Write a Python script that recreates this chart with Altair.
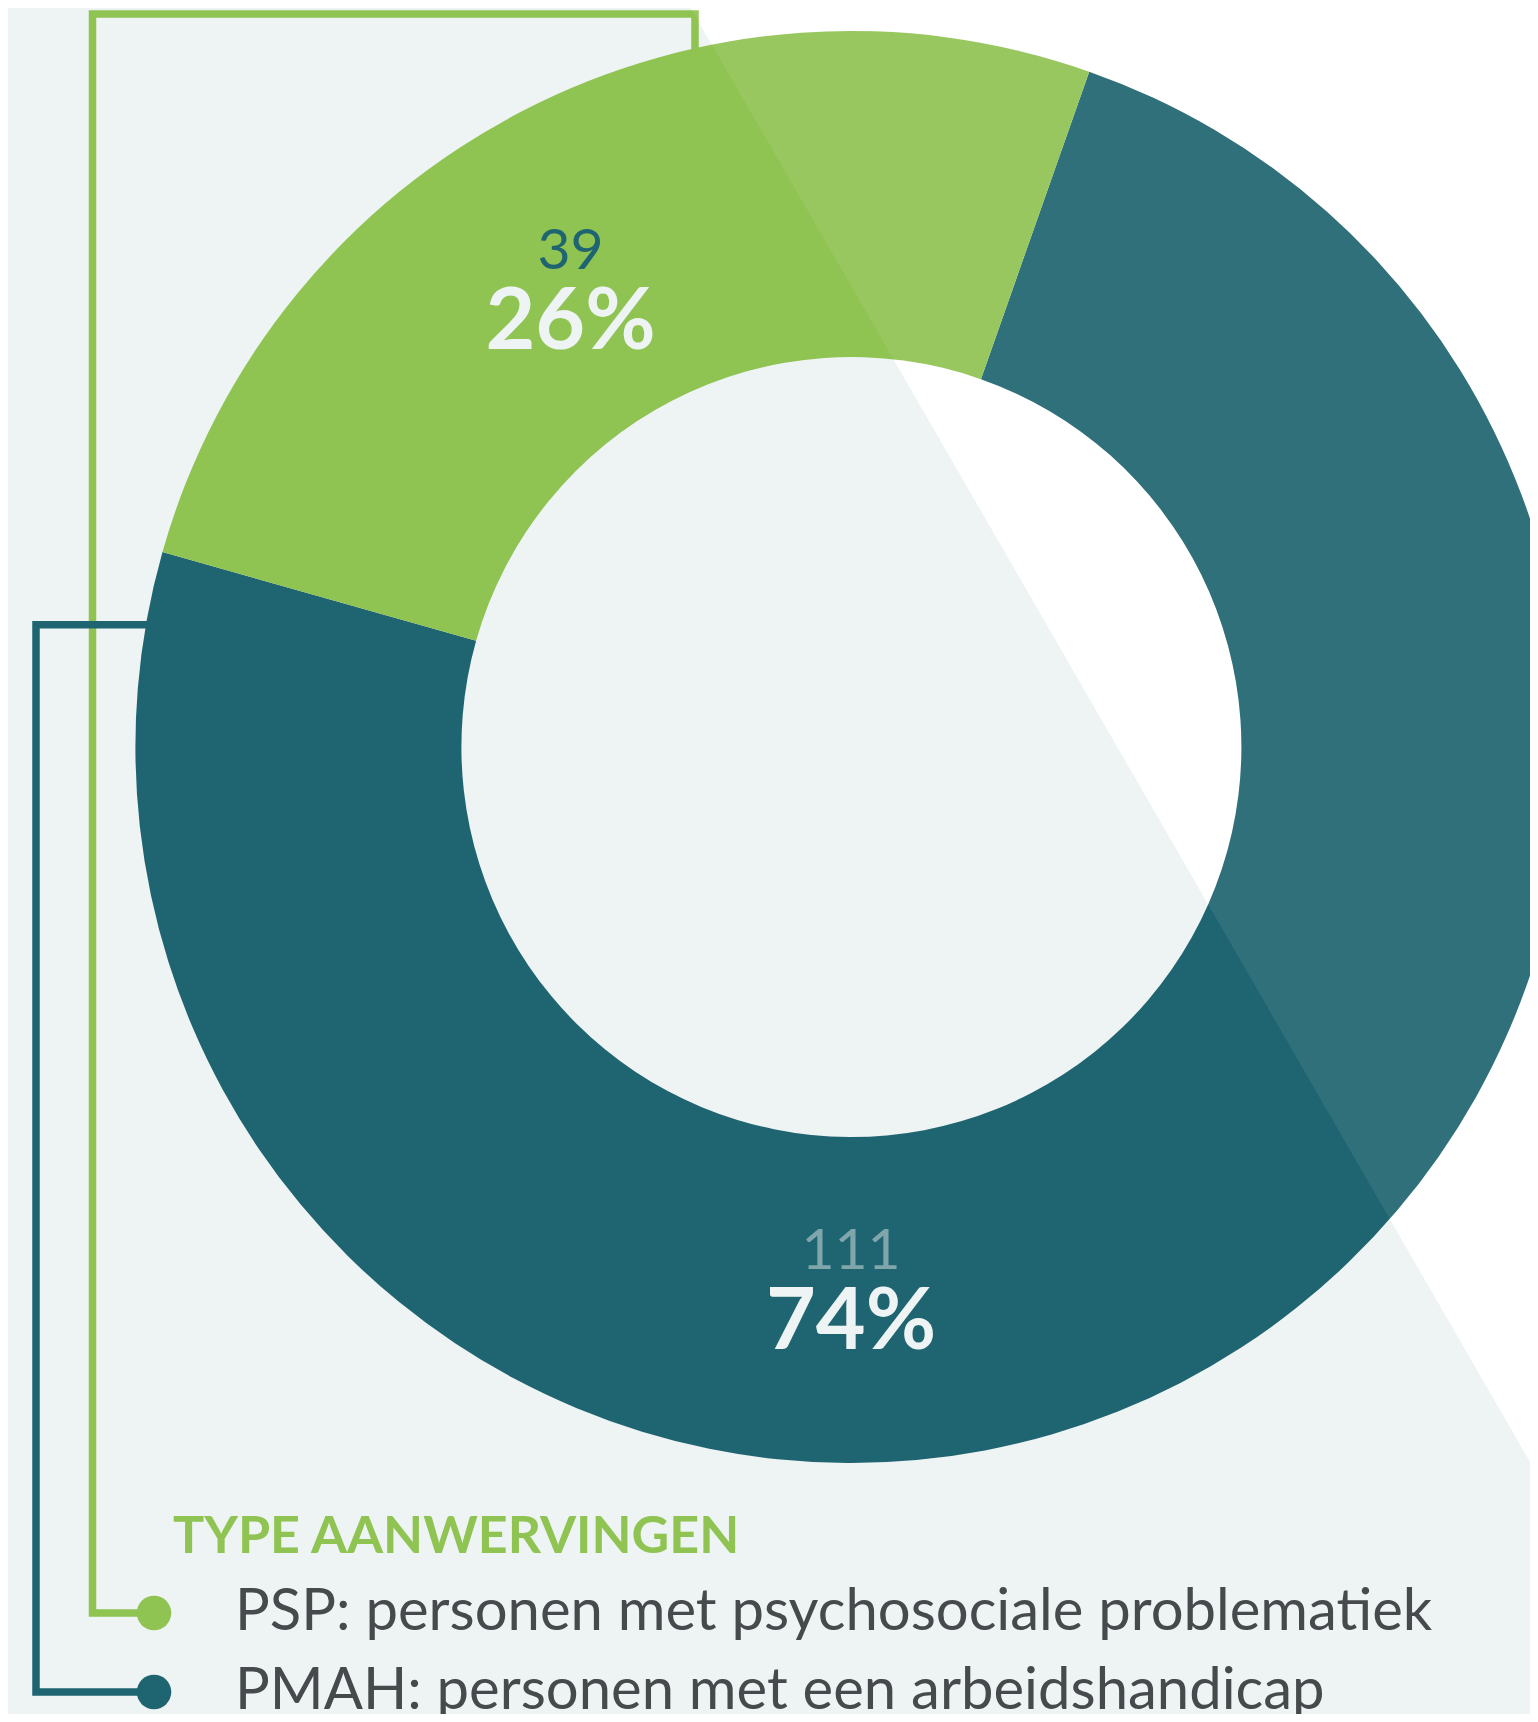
import math
import altair as alt
import pandas as pd

# ---------------- data ----------------
categories = ["PMAH", "PSP"]
counts = [111, 39]
percent_labels = ["74%", "26%"]
legend_title = "TYPE AANWERVINGEN"
legend_categories = ["PSP", "PMAH"]
legend_labels = [
    "PSP: personen met psychosociale problematiek",
    "PMAH: personen met een arbeidshandicap",
]

# ---------------- layout / style ----------------
W, H = 1522, 1706
CX, CY = 843.4, 739.0
R_OUT, R_IN = 716, 390
THETA0 = math.radians(19.4)
DIAG_TOP_X = 682.6
DIAG_SLOPE = math.tan(math.radians(60))

GREEN = "#8fc352"
TEAL = "#1f6571"
BG = "#eef3f4"
TEXT = "#464a4c"
NUM_LIGHT = "#80a6ac"
FONT = "Lato"

LABEL_POS = {"PMAH": (843.0, 1261.0, 1341.0), "PSP": (562.5, 261.0, 341.0)}
LEGEND_X_DOT, LEGEND_X_TEXT = 146.0, 227.0
LEGEND_Y = {"PSP": 1605.0, "PMAH": 1684.0}
TITLE_XY = (165.0, 1545.0)
LINE_W = 7.5
PATHS = {
    "PSP": [(687, 60), (687, 6), (84.5, 6), (84.5, 1605), (146, 1605)],
    "PMAH": [(200, 616.7), (28, 616.7), (28, 1684), (146, 1684)],
}

xs = alt.Scale(domain=[0, W], nice=False, zero=False)
ys = alt.Scale(domain=[0, H], nice=False, zero=False, reverse=True)

def X(f):
    return alt.X(f, scale=xs, axis=None)

def Y(f):
    return alt.Y(f, scale=ys, axis=None)

# ---------------- tables ----------------
donut_df = pd.DataFrame({
    "cat": categories,
    "count": counts,
    "pct": percent_labels,
    "ord": list(range(len(categories))),
})
donut_df["lx"] = [LABEL_POS[c][0] for c in categories]
donut_df["ly_num"] = [LABEL_POS[c][1] for c in categories]
donut_df["ly_pct"] = [LABEL_POS[c][2] for c in categories]

tri_df = pd.DataFrame({
    "x": [DIAG_TOP_X, W],
    "y": [0.0, (W - DIAG_TOP_X) * DIAG_SLOPE],
    "y2": [0.0, 0.0],
})

path_rows = []
for cat, pts in PATHS.items():
    for i, (px, py) in enumerate(pts):
        path_rows.append({"cat": cat, "i": i, "x": px, "y": py})
path_df = pd.DataFrame(path_rows)

legend_df = pd.DataFrame({
    "cat": legend_categories,
    "label": legend_labels,
    "xd": [LEGEND_X_DOT] * len(legend_categories),
    "xt": [LEGEND_X_TEXT] * len(legend_categories),
    "y": [LEGEND_Y[c] for c in legend_categories],
})
title_df = pd.DataFrame({"t": [legend_title], "x": [TITLE_XY[0]], "y": [TITLE_XY[1]]})

color_scale = alt.Scale(domain=["PSP", "PMAH"], range=[GREEN, TEAL])

# ---------------- layers ----------------
white_tri = alt.Chart(tri_df).mark_area(color="white").encode(
    x=X("x:Q"), y=Y("y:Q"), y2="y2:Q"
)

lines = alt.Chart(path_df).mark_line(strokeWidth=LINE_W, strokeCap="butt", strokeJoin="miter").encode(
    x=X("x:Q"), y=Y("y:Q"), order="i:Q",
    color=alt.Color("cat:N", scale=color_scale, legend=None),
    detail="cat:N",
)

arc = alt.Chart(donut_df).mark_arc(
    x=CX, y=CY, outerRadius=R_OUT, innerRadius=R_IN
).encode(
    theta=alt.Theta("count:Q", stack=True,
                    scale=alt.Scale(range=[THETA0, THETA0 + 2 * math.pi])),
    color=alt.Color("cat:N", scale=color_scale, legend=None),
    order=alt.Order("ord:Q"),
)

overlay = alt.Chart(tri_df).mark_area(color="white", opacity=0.075).encode(
    x=X("x:Q"), y=Y("y:Q"), y2="y2:Q"
)

num_text = alt.Chart(donut_df).mark_text(
    font=FONT, fontSize=57, align="center", baseline="alphabetic"
).encode(
    x=X("lx:Q"), y=Y("ly_num:Q"), text="count:Q",
    color=alt.condition(alt.datum.cat == "PSP", alt.value(TEAL), alt.value(NUM_LIGHT)),
)

pct_text = alt.Chart(donut_df).mark_text(
    font=FONT, fontSize=86, fontWeight="bold", align="center", baseline="alphabetic", color=BG
).encode(
    x=X("lx:Q"), y=Y("ly_pct:Q"), text="pct:N",
)

title = alt.Chart(title_df).mark_text(
    font=FONT, fontSize=52, fontWeight="bold", align="left", baseline="alphabetic", color=GREEN
).encode(x=X("x:Q"), y=Y("y:Q"), text="t:N")

dots = alt.Chart(legend_df).mark_circle(size=1195, opacity=1).encode(
    x=X("xd:Q"), y=Y("y:Q"),
    color=alt.Color("cat:N", scale=color_scale, legend=None),
)

leg_text = alt.Chart(legend_df).mark_text(
    font=FONT, fontSize=58, align="left", baseline="middle", color=TEXT
).encode(x=X("xt:Q"), y=Y("y:Q"), text="label:N")

chart = alt.layer(
    white_tri, lines, arc, overlay, num_text, pct_text, title, dots, leg_text
).properties(
    width=W, height=H, background=BG, padding=0,
    autosize=alt.AutoSizeParams(type="none"),
).configure_view(stroke=None)

chart.save("out.html", embed_options={"renderer": "svg", "actions": False})
